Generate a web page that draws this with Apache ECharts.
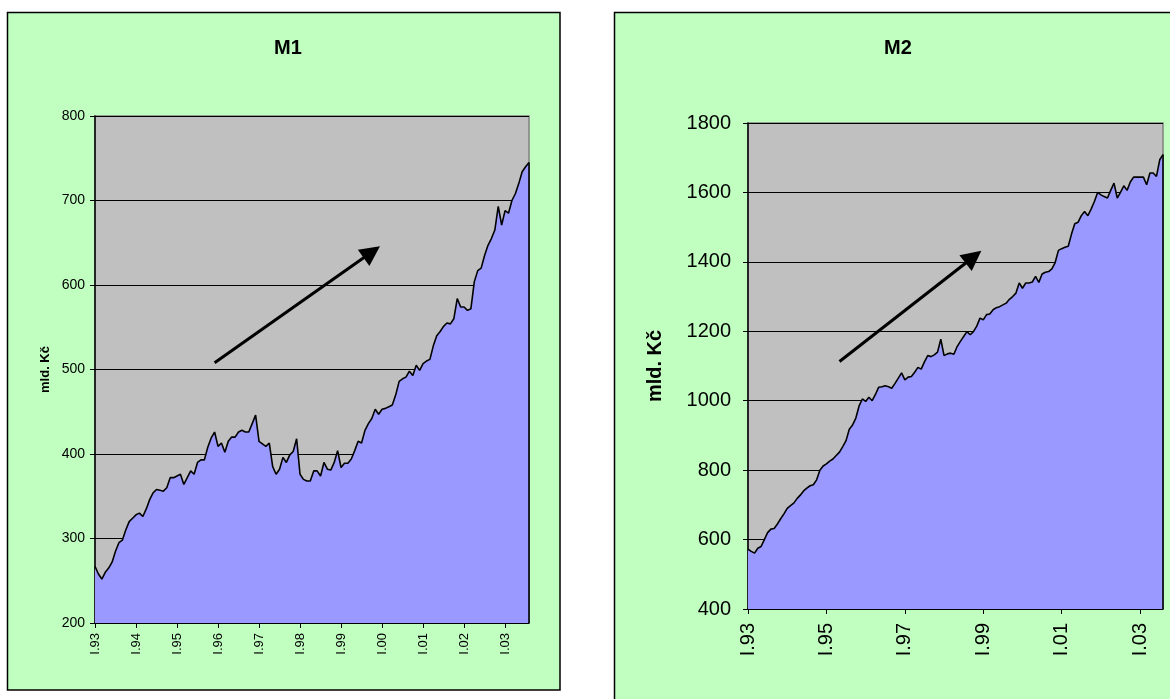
<!DOCTYPE html>
<html>
<head>
<meta charset="utf-8">
<title>M1, M2</title>
<script src="https://cdn.jsdelivr.net/npm/echarts@6/dist/echarts.min.js"></script>
<style>
  html, body { margin: 0; padding: 0; background: #ffffff; }
  #chart { width: 1170px; height: 699px; }
</style>
</head>
<body>
<div id="chart"></div>
<script>
// Monthly money supply, January 1993 - August 2003 (mld. Kč)
const monthNames = ['I', 'II', 'III', 'IV', 'V', 'VI', 'VII', 'VIII', 'IX', 'X', 'XI', 'XII'];
const years = ['93', '94', '95', '96', '97', '98', '99', '00', '01', '02', '03'];
const monthsInLastYear = 8;

const m1Values = [
  267, 258, 252, 260, 265, 272, 285, 295, 298, 310, 320, 324,
  328, 330, 326, 335, 346, 354, 358, 357, 356, 360, 372, 372,
  374, 376, 364, 372, 380, 376, 390, 393, 393, 408, 419, 426,
  409, 413, 402, 415, 420, 420, 426, 428, 426, 426, 436, 446,
  415, 412, 409, 413, 385, 376, 382, 396, 390, 399, 403, 418,
  376, 370, 368, 368, 380, 380, 374, 390, 382, 381, 390, 404,
  384, 389, 389, 394, 404, 415, 413, 428, 436, 442, 453, 447,
  453, 454, 456, 458, 470, 486, 489, 491, 498, 493, 505, 499,
  507, 510, 512, 528, 540, 545, 551, 555, 554, 560, 584, 574,
  574, 570, 572, 604, 617, 620, 635, 647, 655, 665, 693, 671,
  688, 685, 700, 708, 720, 734, 740, 745
];

const m2Values = [
  572, 566, 561, 575, 580, 600, 620, 630, 632, 645, 660, 674,
  690, 698, 705, 718, 728, 740, 748, 755, 758, 772, 800, 812,
  818, 826, 832, 842, 852, 868, 885, 918, 930, 950, 985, 1005,
  998, 1010, 1000, 1018, 1039, 1040, 1043, 1040, 1036, 1050, 1065, 1080,
  1060, 1068, 1070, 1082, 1096, 1091, 1112, 1130, 1127, 1132, 1140, 1177,
  1130, 1135, 1137, 1134, 1156, 1171, 1185, 1199, 1190, 1199, 1215, 1238,
  1233, 1248, 1250, 1262, 1268, 1271, 1276, 1281, 1292, 1300, 1310, 1339,
  1324, 1339, 1339, 1342, 1358, 1341, 1365, 1370, 1372, 1380, 1398, 1433,
  1438, 1442, 1445, 1480, 1510, 1514, 1533, 1545, 1533, 1552, 1574, 1600,
  1593, 1588, 1584, 1606, 1627, 1584, 1600, 1619, 1606, 1630, 1644, 1644,
  1644, 1644, 1622, 1656, 1656, 1646, 1694, 1709
];

// Trend arrows: [start index, start value, end index, end value]
const m1Trend = [35, 508, 81, 639];
const m2Trend = [28, 1113, 69, 1414];

// Category labels such as "I.93", "II.93", ...
const categories = [];
years.forEach((y, yi) => {
  const count = yi === years.length - 1 ? monthsInLastYear : 12;
  for (let m = 0; m < count; m++) categories.push(monthNames[m] + '.' + y);
});

const FONT = 'Arial, "Liberation Sans", sans-serif';
const chart = echarts.init(document.getElementById('chart'), null, { renderer: 'canvas' });

function xAxisFor(gridIndex, step, fontSize, margin) {
  return {
    type: 'category',
    gridIndex: gridIndex,
    data: categories,
    boundaryGap: false,
    axisLine: { show: true, lineStyle: { color: '#000', width: 1.5 } },
    axisTick: { show: true, interval: step - 1, length: 5, lineStyle: { color: '#000' } },
    axisLabel: {
      interval: step - 1, rotate: 90, margin: margin,
      fontFamily: FONT, fontSize: fontSize, color: '#000'
    },
    splitLine: { show: false }
  };
}

function yAxisFor(gridIndex, min, max, step, fontSize, margin, nameSize, nameGap) {
  return {
    type: 'value',
    gridIndex: gridIndex,
    min: min, max: max, interval: step,
    name: 'mld. Kč',
    nameLocation: 'middle',
    nameGap: nameGap,
    nameTextStyle: { fontFamily: FONT, fontSize: nameSize, fontWeight: 'bold', color: '#000' },
    axisLine: { show: true, lineStyle: { color: '#000', width: 1.5 } },
    axisTick: { show: true, length: 5, lineStyle: { color: '#000' } },
    axisLabel: {
      margin: margin, fontFamily: FONT, fontSize: fontSize, color: '#000',
      formatter: (v) => String(v)
    },
    splitLine: { show: true, lineStyle: { color: '#000', width: 1 } }
  };
}

function areaSeries(index, values, trend, minValue) {
  const last = values.length - 1;
  return {
    type: 'line',
    xAxisIndex: index, yAxisIndex: index,
    data: values,
    symbol: 'none',
    smooth: false,
    lineStyle: { color: '#000', width: 1.6 },
    areaStyle: { color: '#9999FF', opacity: 1, origin: 'start' },
    z: 3,
    markLine: {
      silent: true,
      animation: false,
      label: { show: false },
      data: [
        [
          { coord: [categories[trend[0]], trend[1]], symbol: 'none' },
          { coord: [categories[trend[2]], trend[3]], symbol: 'triangle', symbolSize: 20 }
        ],
        [
          { coord: [categories[last], minValue], symbol: 'none', lineStyle: { width: 1.6 } },
          { coord: [categories[last], values[last]], symbol: 'none', lineStyle: { width: 1.6 } }
        ]
      ],
      lineStyle: { color: '#000', width: 3, type: 'solid' },
      itemStyle: { color: '#000' }
    }
  };
}

const option = {
  animation: false,
  backgroundColor: '#ffffff',
  graphic: [
    {
      type: 'rect', z: -10, silent: true,
      shape: { x: 7.5, y: 12.5, width: 552.5, height: 677.5 },
      style: { fill: '#C0FFC0', stroke: '#000', lineWidth: 1.5 }
    },
    {
      type: 'rect', z: -10, silent: true,
      shape: { x: 614.5, y: 12.5, width: 570, height: 700 },
      style: { fill: '#C0FFC0', stroke: '#000', lineWidth: 1.5 }
    }
  ],
  title: [
    {
      text: 'M1', left: 283, top: 33, textAlign: 'center',
      textStyle: { fontFamily: FONT, fontSize: 20, fontWeight: 'bold', color: '#000' }
    },
    {
      text: 'M2', left: 893, top: 33, textAlign: 'center',
      textStyle: { fontFamily: FONT, fontSize: 20, fontWeight: 'bold', color: '#000' }
    }
  ],
  grid: [
    {
      left: 95, top: 116, width: 434, height: 507,
      show: true, backgroundColor: '#C0C0C0', borderColor: '#808080', borderWidth: 1.5
    },
    {
      left: 748, top: 123, width: 415, height: 486,
      show: true, backgroundColor: '#C0C0C0', borderColor: '#808080', borderWidth: 1.5
    }
  ],
  xAxis: [
    xAxisFor(0, 12, 13, 10),
    xAxisFor(1, 24, 20, 14)
  ],
  yAxis: [
    yAxisFor(0, 200, 800, 100, 14, 10, 13, 43),
    yAxisFor(1, 400, 1800, 200, 20, 17, 20, 83)
  ],
  series: [
    areaSeries(0, m1Values, m1Trend, 200),
    areaSeries(1, m2Values, m2Trend, 400)
  ]
};

chart.setOption(option);
</script>
</body>
</html>
